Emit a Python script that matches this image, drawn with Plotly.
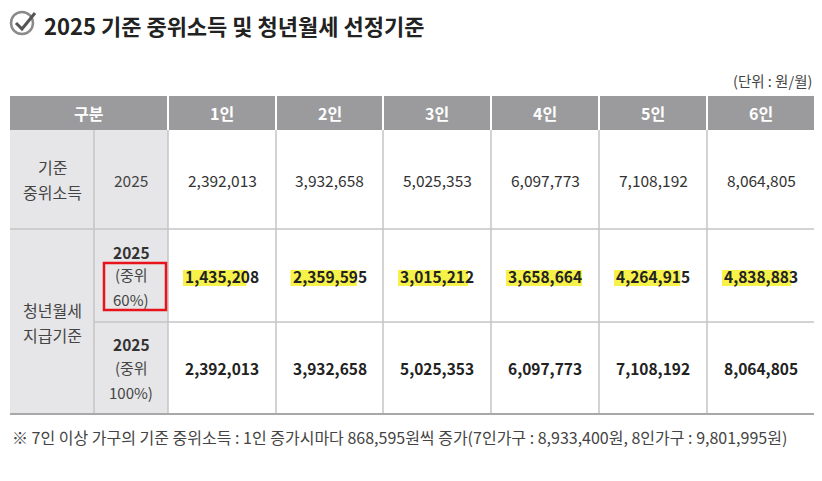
import plotly.graph_objects as go

columns = ["1인", "2인", "3인", "4인", "5인", "6인"]
median_income = ["2,392,013", "3,932,658", "5,025,353", "6,097,773", "7,108,192", "8,064,805"]
rent_60 = ["1,435,208", "2,359,595", "3,015,212", "3,658,664", "4,264,915", "4,838,883"]
rent_100 = ["2,392,013", "3,932,658", "5,025,353", "6,097,773", "7,108,192", "8,064,805"]
highlight_frac = [0.83, 0.87, 0.92, 1.0, 0.87, 0.91]

W, H = 822, 481
OFF = 8  # page body margin
FONT = "Noto Sans CJK KR"
fig = go.Figure()
shapes, ann = [], []

col_x = [168, 276, 383, 491, 599, 707, 815]
line_c = "#c4c4c4"

def rect(x0, y0, x1, y1, fill=None, line=None, lw=0, layer="below"):
    shapes.append(dict(type="rect", x0=x0, y0=y0, x1=x1, y1=y1, xref="x", yref="y",
                       fillcolor=fill or "rgba(0,0,0,0)", line=dict(color=line or "rgba(0,0,0,0)", width=lw), layer=layer))

def line(x0, y0, x1, y1, c=line_c, w=1.5):
    shapes.append(dict(type="line", x0=x0, y0=y0, x1=x1, y1=y1, xref="x", yref="y", line=dict(color=c, width=w), layer="below"))

def text(x, y, s, size=14, color="#333", bold=False, xanchor="center"):
    ann.append(dict(x=x, y=y, xref="x", yref="y", text=f"<b>{s}</b>" if bold else s, showarrow=False,
                    font=dict(family=FONT, size=size, color=color), xanchor=xanchor, yanchor="middle", align="center"))

rect(10, 96, 815, 130, fill="#9b9b9d")
rect(10, 130, 168, 414, fill="#e6e6e8")
for x in col_x[:-1]:
    line(x, 130, x, 414)
for x in col_x[:-1]:
    line(x, 96, x, 130, c="#ffffff", w=2)
line(94, 130, 94, 414)
line(10, 229, 815, 229)
line(94, 322, 815, 322)
line(10, 414, 815, 414, c="#a8a8a8", w=2)

text(89, 113, "구분", size=16, color="white", bold=True)
for i, c in enumerate(columns):
    text((col_x[i] + col_x[i + 1]) / 2, 113, c, size=16, color="white", bold=True)

text(52, 167, "기준", size=16, color="#444")
text(52, 192, "중위소득", size=16, color="#444")
text(131, 180, "2025", size=15.5, color="#444")
text(52, 310, "청년월세", size=16, color="#444")
text(52, 335, "지급기준", size=16, color="#444")
text(131, 252, "2025", size=15.5, color="#333", bold=True)
text(131, 274, "(중위", size=15, color="#444")
text(131, 299, "60%)", size=15, color="#444")
text(131, 344, "2025", size=15.5, color="#333", bold=True)
text(131, 367, "(중위", size=15, color="#444")
text(131, 392, "100%)", size=15, color="#444")
rect(104, 263, 166, 310, line="#e8141b", lw=2.5, layer="above")

for i in range(6):
    cx = (col_x[i] + col_x[i + 1]) / 2
    text(cx, 180, median_income[i], size=15.5, color="#333")
    text(cx, 276, rent_60[i], size=15.5, color="#222", bold=True)
    text(cx, 368, rent_100[i], size=15.5, color="#222", bold=True)
    tw = 74
    rect(cx - tw / 2 - 2, 270, cx - tw / 2 + tw * highlight_frac[i], 286, fill="#f7f24a")

shapes.append(dict(type="circle", x0=11, y0=12, x1=33, y1=34, xref="x", yref="y", line=dict(color="#8a8a8a", width=2.5)))
shapes.append(dict(type="path", path="M 16 23 L 22 29 L 35 13", xref="x", yref="y", line=dict(color="#555", width=3)))
text(42, 25, "2025 기준 중위소득 및 청년월세 선정기준", size=22, color="#222", bold=True, xanchor="left")
text(814, 80, "(단위 : 원/월)", size=14.5, color="#444", xanchor="right")
text(10, 437, "※ 7인 이상 가구의 기준 중위소득 : 1인 증가시마다 868,595원씩 증가(7인가구 : 8,933,400원, 8인가구 : 9,801,995원)",
     size=16, color="#444", xanchor="left")

fig.update_layout(width=W, height=H, margin=dict(l=0, r=0, t=0, b=0), plot_bgcolor="white", paper_bgcolor="white",
                  xaxis=dict(range=[OFF, W + OFF], visible=False, fixedrange=True),
                  yaxis=dict(range=[H + OFF, OFF], visible=False, fixedrange=True),
                  shapes=shapes, annotations=ann, showlegend=False)
fig.write_html("out.html")
